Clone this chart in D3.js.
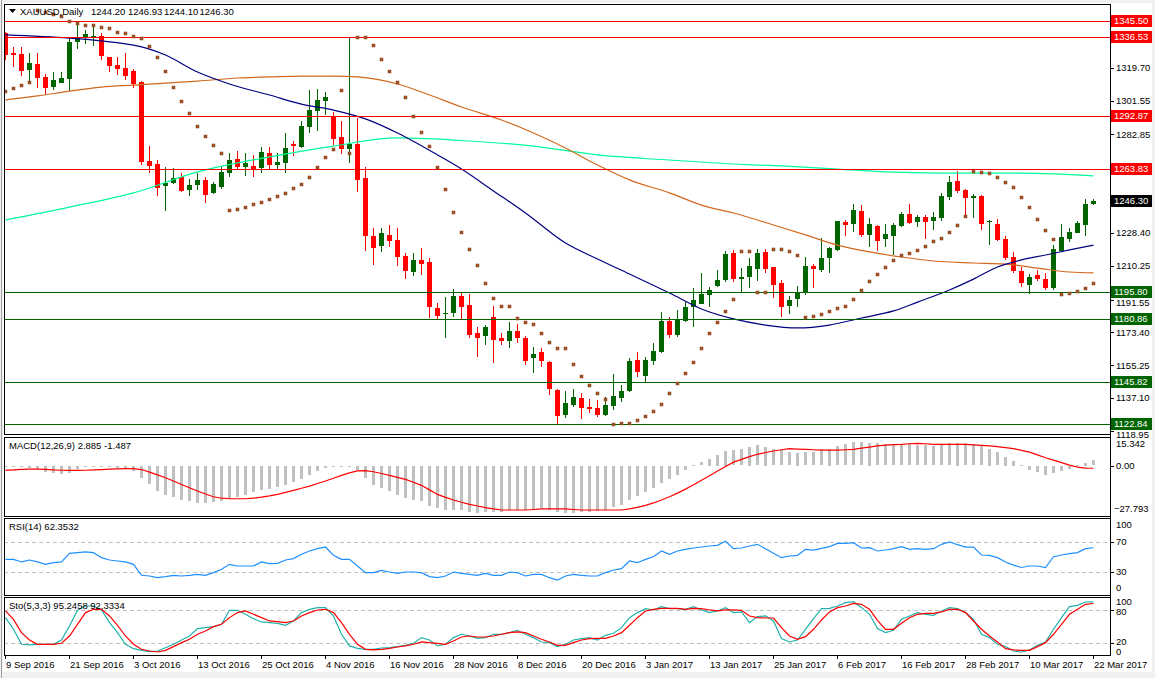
<!DOCTYPE html>
<html><head><meta charset="utf-8">
<script src="https://cdn.jsdelivr.net/npm/d3@7/dist/d3.min.js"></script>
<style>
body{margin:0;background:#fff;overflow:hidden}
svg{display:block}
text{font-family:"Liberation Sans",Arial,sans-serif;font-size:9.5px;fill:#000}
</style></head>
<body><svg id="c" width="1155" height="678"></svg>
<script>
// ---------------- DATA ----------------
const symbolTitle = "XAUUSD,Daily";
const lastOHLC = ["1244.20","1246.93","1244.10","1246.30"];
const tickLabels = ["9 Sep 2016","21 Sep 2016","3 Oct 2016","13 Oct 2016","25 Oct 2016","4 Nov 2016","16 Nov 2016","28 Nov 2016","8 Dec 2016","20 Dec 2016","3 Jan 2017","13 Jan 2017","25 Jan 2017","6 Feb 2017","16 Feb 2017","28 Feb 2017","10 Mar 2017","22 Mar 2017"];
const barsPerTick = 8;
const opens = [1338.9,1327.8,1327.3,1318.4,1321.7,1314.6,1308.9,1311.2,1313.5,1333.9,1336.1,1336.1,1337.2,1325.6,1321.2,1319.5,1317.9,1311.8,1268.1,1266.5,1254.5,1256.0,1259.3,1252.1,1255.0,1257.6,1250.6,1253.9,1261.7,1269.3,1265.0,1265.4,1264.5,1272.6,1265.9,1267.2,1277.5,1276.1,1287.1,1296.0,1301.5,1293.0,1281.6,1274.8,1277.5,1258.8,1226.7,1221.2,1227.3,1224.5,1215.5,1207.0,1213.4,1212.2,1186.8,1183.4,1184.3,1193.6,1188.6,1173.3,1171.5,1182.1,1170.2,1168.9,1174.2,1170.5,1159.1,1162.8,1157.3,1141.6,1128.0,1133.3,1137.4,1132.4,1131.5,1127.8,1132.8,1137.1,1141.2,1158.2,1149.4,1157.8,1162.8,1179.9,1172.0,1179.9,1187.3,1189.3,1194.1,1199.2,1202.4,1217.2,1202.8,1204.2,1208.6,1217.7,1209.4,1200.6,1188.2,1191.9,1195.1,1210.1,1208.0,1214.4,1219.0,1234.6,1233.2,1240.5,1227.3,1232.2,1224.9,1226.7,1232.2,1238.9,1234.6,1237.4,1234.9,1236.5,1248.4,1257.1,1252.1,1247.5,1248.8,1234.6,1233.3,1224.9,1215.0,1207.5,1199.6,1205.2,1203.2,1198.2,1218.6,1225.1,1228.5,1232.8,1244.20];
const highs = [1339.5,1331.1,1331.1,1327.8,1327.8,1316.0,1317.3,1317.3,1336.1,1344.4,1340.5,1342.2,1338.9,1325.8,1325.6,1327.8,1319.0,1312.5,1276.4,1268.7,1264.8,1264.3,1261.5,1258.2,1261.5,1259.3,1256.5,1264.8,1272.6,1273.7,1272.6,1271.5,1276.0,1276.0,1272.6,1283.6,1279.4,1290.0,1307.4,1307.9,1306.4,1295.4,1290.3,1336.5,1291.9,1265.0,1231.3,1231.3,1232.8,1231.1,1217.5,1217.3,1220.2,1214.4,1189.9,1192.8,1197.3,1195.1,1194.7,1176.3,1177.5,1187.9,1173.3,1179.4,1178.1,1171.5,1165.5,1164.7,1157.8,1142.0,1141.0,1142.0,1139.8,1136.6,1136.1,1137.9,1150.5,1144.4,1159.1,1162.8,1160.0,1167.8,1184.9,1182.1,1185.8,1190.4,1198.2,1206.4,1198.7,1207.9,1218.6,1219.0,1208.9,1214.4,1219.4,1219.5,1209.7,1202.4,1193.6,1199.1,1215.3,1211.2,1225.4,1220.8,1235.2,1235.5,1244.4,1243.8,1236.5,1232.8,1233.3,1234.0,1240.1,1244.4,1238.3,1238.3,1240.1,1250.6,1259.9,1262.8,1252.5,1249.9,1249.4,1235.5,1235.9,1226.7,1218.0,1209.7,1205.7,1207.9,1206.1,1221.7,1233.3,1230.9,1235.2,1247.2,1246.93];
const lows = [1324.0,1320.1,1315.1,1311.2,1308.5,1305.2,1307.4,1311.0,1306.8,1330.0,1332.8,1331.7,1324.0,1317.3,1315.7,1312.9,1308.5,1265.9,1261.5,1248.8,1240.7,1255.5,1251.2,1248.8,1252.1,1245.1,1249.9,1252.7,1259.5,1263.7,1259.9,1259.5,1261.5,1263.7,1263.7,1261.7,1270.9,1275.5,1283.8,1285.0,1293.6,1277.0,1272.0,1267.2,1251.2,1218.6,1210.7,1218.0,1220.8,1210.3,1202.8,1204.6,1205.2,1181.2,1180.3,1170.2,1182.1,1180.3,1170.2,1160.0,1166.3,1156.7,1166.5,1165.0,1167.8,1155.4,1150.8,1154.5,1138.9,1122.3,1126.0,1132.4,1125.4,1128.8,1126.9,1127.3,1130.6,1135.2,1140.7,1149.0,1145.3,1155.4,1161.9,1170.2,1171.1,1179.4,1176.6,1189.1,1187.6,1198.7,1201.5,1201.5,1195.0,1197.8,1202.0,1206.1,1192.6,1182.0,1183.5,1187.3,1194.1,1197.8,1206.6,1206.4,1218.4,1226.7,1229.1,1226.0,1220.8,1218.6,1220.8,1216.2,1231.5,1233.3,1231.8,1224.9,1230.0,1235.2,1246.6,1250.3,1237.4,1236.5,1230.0,1221.7,1224.1,1213.4,1206.1,1198.4,1194.7,1202.1,1196.9,1196.9,1218.0,1223.6,1228.2,1226.7,1244.10];
const closes = [1326.7,1326.7,1317.9,1322.3,1314.0,1308.5,1313.0,1314.0,1333.9,1336.1,1338.3,1337.2,1326.2,1320.6,1319.0,1315.1,1310.7,1267.8,1265.6,1253.4,1255.8,1258.8,1251.7,1254.9,1257.6,1249.5,1255.4,1262.0,1268.7,1265.0,1266.9,1263.2,1273.1,1265.9,1267.6,1275.3,1276.4,1287.5,1296.3,1301.9,1303.7,1280.3,1274.8,1277.5,1257.7,1226.7,1220.2,1228.2,1224.1,1215.3,1207.5,1213.4,1211.2,1187.6,1182.5,1183.9,1193.6,1187.3,1172.2,1170.5,1176.3,1169.3,1168.9,1174.4,1170.2,1157.8,1161.3,1157.8,1142.0,1127.4,1134.3,1137.6,1131.9,1131.3,1127.8,1133.3,1138.3,1141.2,1157.8,1151.7,1158.2,1163.2,1179.9,1172.0,1180.3,1187.6,1191.4,1194.7,1196.9,1202.4,1216.6,1202.8,1204.2,1210.1,1217.2,1208.5,1199.6,1187.6,1191.4,1195.1,1210.1,1208.6,1214.4,1219.9,1235.0,1232.8,1241.0,1227.3,1233.4,1224.1,1227.8,1232.8,1238.9,1234.1,1237.4,1234.6,1237.4,1248.8,1256.4,1251.7,1247.5,1248.8,1233.3,1234.9,1224.5,1214.4,1207.5,1200.6,1204.2,1203.0,1198.2,1219.7,1226.0,1229.1,1234.1,1244.4,1246.30];
// Parabolic SAR (one dot per bar)
const sar = [1306.8,1308.5,1310.1,1311.8,1351.6,1350.5,1349.4,1348.3,1345.5,1344.4,1343.3,1343.3,1342.2,1341.6,1339.4,1338.9,1337.2,1336.1,1331.7,1325.6,1317.9,1309.0,1301.3,1294.7,1287.5,1282.0,1277.0,1272.6,1241.1,1241.6,1242.7,1244.4,1245.5,1247.2,1248.8,1250.5,1253.2,1255.4,1259.3,1264.8,1270.4,1274.8,1307.4,1272.6,1336.7,1336.7,1332.2,1324.5,1317.9,1311.8,1303.5,1293.0,1284.2,1276.4,1264.8,1252.7,1240.0,1228.9,1219.5,1210.7,1200.7,1192.5,1188.0,1188.0,1181.4,1179.2,1178.1,1173.1,1168.2,1164.8,1164.8,1156.0,1149.4,1144.4,1140.0,1136.7,1122.8,1123.4,1123.4,1125.0,1127.3,1130.0,1133.9,1140.0,1145.5,1151.0,1157.1,1164.8,1173.1,1179.2,1185.3,1191.9,1218.4,1218.4,1195.8,1195.8,1219.5,1219.5,1218.4,1216.2,1182.0,1182.7,1183.4,1185.1,1186.7,1188.0,1191.9,1196.9,1201.9,1205.7,1209.6,1213.4,1216.2,1217.3,1219.0,1221.2,1224.0,1225.6,1228.9,1232.8,1237.8,1262.6,1262.1,1261.5,1259.3,1256.5,1253.8,1248.3,1242.7,1236.1,1230.0,1225.1,1194.7,1195.2,1196.3,1198.0,1200.7];
// Moving averages (bar index, value)
const maNavyBars = [0,16,20,24,28,33,37,41,45,49,54,57,61,65,70,74,78,83,87,91,95,99,103,107,111,114,118,121,124,127,130,133,136];
const maNavyVals = [1337.8,1332.2,1326.7,1317.3,1310.7,1304.6,1299.6,1296.3,1291.4,1283.6,1271.5,1263.7,1251.6,1239.4,1222.8,1214.0,1205.7,1195.2,1186.4,1180.9,1177.5,1175.9,1177.5,1181.4,1185.3,1190.2,1196.9,1202.9,1209.6,1213.5,1216.2,1219.0,1221.7];
const maOrangeBars = [0,4,8,12,16,20,24,29,33,37,41,44,49,53,57,62,66,70,74,78,83,87,91,96,100,104,108,112,116,121,125,129,133,136];
const maOrangeVals = [1301.9,1304.1,1306.8,1309.0,1310.1,1311.2,1312.3,1314.0,1314.6,1315.1,1315.1,1314.6,1310.7,1304.6,1298.0,1290.8,1283.6,1275.3,1265.9,1257.7,1250.5,1243.8,1239.4,1232.8,1227.3,1221.7,1217.9,1215.1,1212.9,1211.8,1211.2,1209.0,1206.8,1206.3];
const maGreenBars = [0,8,16,24,33,41,49,58,66,74,83,91,97,104,110,117,125,131,136];
const maGreenVals = [1235.6,1242.7,1250.5,1262.1,1270.4,1276.4,1280.9,1279.2,1276.4,1271.5,1268.7,1266.5,1265.4,1263.7,1262.1,1261.5,1261.5,1261.0,1259.9];
const resistanceLevels = [1345.50,1336.53,1292.87,1263.83];
const supportLevels = [1195.80,1180.86,1145.82,1122.84];
const lastPrice = 1246.30;
const priceTicks = [1319.70,1301.55,1282.85,1228.40,1210.25,1191.55,1173.40,1155.25,1137.10,1118.95];
// MACD(12,26,9)
const macdTitle = "MACD(12,26,9) 2.885 -1.487";
const macdMain = [-0.5,-0.6,-0.8,-1.0,-1.5,-3.5,-4.0,-4.2,-3.8,-1.5,-0.8,-0.5,-0.6,-0.8,-0.9,-1.0,-2.5,-6.5,-10.0,-13.5,-15.8,-17.2,-18.5,-19.5,-20.3,-20.5,-20.0,-19.2,-18.2,-17.0,-15.8,-14.5,-13.3,-12.5,-11.8,-10.5,-9.0,-7.2,-5.0,-3.0,-1.2,-0.6,-0.5,-0.6,-2.0,-6.5,-10.4,-12.2,-14.0,-15.9,-17.7,-19.0,-19.5,-21.8,-23.2,-24.2,-24.2,-24.2,-25.1,-26.0,-25.6,-25.1,-25.1,-24.2,-24.2,-24.2,-23.9,-23.2,-24.2,-25.6,-26.0,-26.0,-25.6,-25.6,-24.6,-24.2,-22.7,-21.4,-19.0,-16.8,-14.5,-12.2,-9.1,-7.2,-5.0,-2.4,0.2,1.9,3.8,5.8,8.0,8.4,8.9,10.2,11.1,10.2,8.9,8.5,7.4,7.1,7.4,7.4,8.9,9.2,10.7,11.6,12.9,12.9,12.6,12.2,11.6,11.6,11.6,12.2,11.1,11.1,10.7,11.1,12.2,12.6,12.2,11.6,10.7,9.2,7.4,4.8,2.5,0.3,-2.2,-3.3,-4.8,-3.7,-2.8,-1.5,0.3,1.6,2.885];
const macdSignal = [-2.7,-2.4,-2.1,-2.0,-2.0,-2.1,-2.4,-2.6,-2.7,-2.7,-2.6,-2.4,-2.2,-2.0,-1.8,-1.7,-1.7,-2.2,-3.6,-5.1,-6.7,-8.5,-10.4,-12.2,-14.0,-15.7,-17.2,-18.0,-18.3,-18.3,-18.3,-18.0,-17.4,-16.7,-15.9,-14.8,-13.7,-12.5,-11.3,-9.9,-8.5,-7.0,-5.4,-4.0,-2.9,-2.8,-3.4,-4.4,-5.4,-6.5,-7.6,-9.2,-10.9,-13.4,-15.9,-17.5,-19.0,-20.2,-21.4,-22.3,-23.2,-23.9,-24.5,-24.5,-24.5,-24.5,-24.2,-23.9,-23.9,-23.9,-23.9,-24.2,-24.5,-24.5,-24.5,-24.5,-24.5,-24.5,-23.9,-23.0,-21.9,-20.6,-19.0,-17.2,-15.2,-13.0,-10.6,-8.1,-5.6,-3.0,-0.5,1.9,3.4,4.9,6.2,7.2,8.0,8.7,9.3,9.1,8.9,8.7,8.5,8.5,8.5,8.7,8.9,9.6,10.2,10.8,11.3,11.5,11.7,12.0,12.2,12.0,11.7,11.7,11.7,11.7,11.7,11.4,11.1,10.8,10.4,9.9,9.3,8.4,7.4,5.9,4.3,3.0,1.6,0.2,-0.9,-1.4,-1.487];
const macdTicks = [15.342,0.00,-27.793];
// RSI(14)
const rsiTitle = "RSI(14) 62.3532";
const rsiVals = [46.9,46.9,43.4,46.0,43.4,40.2,42.4,43.4,54.9,55.8,56.7,55.8,49.1,46.0,44.7,43.4,40.2,25.6,24.7,22.4,23.8,25.6,24.7,25.6,26.9,25.6,29.1,33.6,40.2,38.0,38.0,38.0,43.4,41.2,41.6,46.0,47.8,53.6,58.0,61.1,63.3,52.2,46.9,46.9,38.0,29.1,29.1,32.2,30.0,28.2,30.0,30.0,29.1,23.8,22.4,24.7,30.0,28.2,26.9,25.6,28.2,25.6,25.6,30.0,29.1,24.7,26.9,26.9,22.4,19.3,24.7,26.9,25.6,24.7,24.7,29.1,32.7,34.4,44.7,42.4,46.9,50.4,58.0,53.6,58.0,60.2,62.0,63.3,64.7,65.6,70.9,61.1,62.0,64.7,66.9,61.1,54.9,49.1,51.3,52.2,60.2,59.3,61.6,63.8,68.2,68.2,69.1,62.0,62.4,58.0,59.3,61.1,63.8,60.2,61.1,60.2,61.1,66.9,70.0,66.4,63.3,63.3,52.7,52.2,49.1,43.4,39.1,36.0,38.0,38.0,36.0,50.4,52.7,54.4,55.8,61.1,62.35];
const rsiLevels = [70,30];
const rsiTicks = [100,70,30,0];
// Stochastic(5,3,3)
const stoTitle = "Sto(5,3,3) 95.2458 92.3334";
const stoMain = [66.6,45.5,18.2,17.0,18.2,18.2,18.2,26.0,51.5,80.0,87.8,87.8,80.6,57.5,39.3,18.2,10.2,7.2,4.8,6.0,12.0,18.2,26.0,33.3,46.7,48.5,50.3,54.5,80.0,80.0,72.7,64.8,58.8,57.5,56.3,52.7,60.6,75.8,81.8,84.8,84.8,69.7,36.4,15.2,10.9,9.1,9.1,11.5,12.0,13.9,16.4,20.0,30.3,26.0,15.2,18.2,30.3,36.4,33.3,29.1,30.3,36.4,36.4,39.4,43.6,36.4,30.3,22.4,21.2,13.9,18.2,26.0,28.5,30.3,26.0,34.5,38.2,48.5,66.6,75.8,83.0,80.6,86.7,83.0,83.0,81.8,86.7,80.6,75.8,78.8,84.8,75.8,77.0,57.5,68.5,69.7,60.6,28.5,22.4,26.0,45.5,64.8,83.0,83.6,87.8,93.9,95.7,84.8,72.7,46.7,39.4,43.6,63.6,69.7,75.8,72.7,70.9,78.8,84.8,83.0,75.8,63.6,36.4,30.3,18.2,13.9,6.0,4.2,7.9,16.4,22.4,45.5,66.6,86.7,89.1,95.1,95.25];
const stoSignal = [78.8,63.6,39.4,26.0,18.2,18.2,18.2,20.0,33.3,54.5,75.8,81.8,81.8,69.7,52.7,33.3,18.2,9.1,6.0,4.2,7.2,13.9,21.2,27.3,36.4,42.4,50.3,54.5,66.7,75.8,78.8,72.7,66.7,60.6,59.4,57.5,60.6,69.7,75.8,80.6,81.8,75.8,57.5,36.4,18.2,9.1,7.9,9.1,10.9,13.3,15.2,18.2,22.4,21.2,20.0,18.2,24.2,31.5,33.3,31.5,31.5,33.3,36.4,39.4,40.6,39.4,33.3,27.3,22.4,16.4,16.4,21.2,26.0,28.5,29.1,29.1,33.3,39.4,52.7,66.6,78.8,81.8,83.6,83.6,83.6,81.8,83.6,83.0,80.6,78.8,80.6,80.6,80.0,69.7,66.6,66.0,66.0,48.5,33.3,27.3,32.1,45.5,62.4,77.0,84.8,87.8,92.7,90.9,81.8,61.8,45.5,45.5,56.4,66.6,72.7,74.5,74.5,77.0,81.8,81.8,75.8,60.6,45.5,33.3,22.4,10.3,7.9,7.2,7.2,13.9,21.2,36.4,54.5,72.7,81.8,90.9,92.33];
const stoLevels = [80,20];
const stoTicks = [100,80,20,0];

// ---------------- LAYOUT ----------------
const svg = d3.select("#c");
const L = 4, R = 1110;
const panes = {
  main:{top:4,bottom:434},
  macd:{top:437,bottom:516},
  rsi:{top:518,bottom:595},
  sto:{top:597,bottom:655}
};
const nBars = closes.length;
const x = d3.scaleLinear().domain([0, nBars-1]).range([5.5, 5.5 + 8*(nBars-1)]);
const yMain = d3.scaleLinear().domain([1117.3, 1354.9]).range([434, 4]);
const yMacd = d3.scaleLinear().domain([-27.793, 15.342]).range([516, 437.7]);
const yRsi = d3.scaleLinear().domain([0,100]).range([594.5, 519.5]);
const ySto = d3.scaleLinear().domain([0,100]).range([654.3, 599.3]);

// frame
svg.append("rect").attr("width",1155).attr("height",678).attr("fill","#f0f0f0");
svg.append("rect").attr("x",3).attr("y",3).attr("width",1149).attr("height",669).attr("fill","#fff");
svg.append("line").attr("x1",1.5).attr("x2",1.5).attr("y1",0).attr("y2",678).attr("stroke","#a0a0a0");

const defs = svg.append("defs");
Object.entries(panes).forEach(([k,p])=>{
  defs.append("clipPath").attr("id","clip-"+k).append("rect")
    .attr("x",L+1).attr("y",p.top+1).attr("width",R-L-1).attr("height",p.bottom-p.top-1);
});

const gMain = svg.append("g").attr("clip-path","url(#clip-main)");
const crisp = v => Math.round(v);

// candles
const up = i => closes[i] >= opens[i];
const colUp = "#006400", colDn = "#ff0000";
const candles = gMain.append("g").attr("shape-rendering","crispEdges");
d3.range(nBars).forEach(i=>{
  const cx = Math.floor(x(i));
  const c = up(i) ? colUp : colDn;
  const yh = crisp(yMain(highs[i])), yl = crisp(yMain(lows[i]));
  candles.append("rect").attr("x",cx).attr("y",yh).attr("width",1).attr("height",Math.max(1,yl-yh)).attr("fill",c);
  const yo = crisp(yMain(opens[i])), yc = crisp(yMain(closes[i]));
  const top = Math.min(yo,yc), h = Math.max(1, Math.abs(yo-yc));
  candles.append("rect").attr("x",cx-2).attr("y",top).attr("width",5).attr("height",h).attr("fill",c);
});

// moving averages
const lineGen = (xs, ys, sy) => d3.line().curve(d3.curveMonotoneX).x((d,i)=>x(xs[i])).y((d,i)=>sy(ys[i]))(xs);
gMain.append("path").attr("d",lineGen(maGreenBars,maGreenVals,yMain)).attr("fill","none").attr("stroke","#00fa9a").attr("stroke-width",1.2);
gMain.append("path").attr("d",lineGen(maOrangeBars,maOrangeVals,yMain)).attr("fill","none").attr("stroke","#d2691e").attr("stroke-width",1.2);
gMain.append("path").attr("d",lineGen(maNavyBars,maNavyVals,yMain)).attr("fill","none").attr("stroke","#000080").attr("stroke-width",1.2);

// horizontal levels
resistanceLevels.forEach(v=>{
  gMain.append("line").attr("x1",L).attr("x2",R).attr("y1",crisp(yMain(v))+0.5).attr("y2",crisp(yMain(v))+0.5).attr("stroke","#ff0000");
});
supportLevels.forEach(v=>{
  gMain.append("line").attr("x1",L).attr("x2",R).attr("y1",crisp(yMain(v))+0.5).attr("y2",crisp(yMain(v))+0.5).attr("stroke","#006400");
});

// parabolic SAR
gMain.append("g").selectAll("rect").data(sar).join("rect")
  .attr("x",(d,i)=>Math.floor(x(i))-1).attr("y",d=>crisp(yMain(d))-1)
  .attr("width",3).attr("height",3).attr("fill","#a0522d").attr("stroke","#8b4513").attr("stroke-width",0.5);

// ---- MACD ----
const gMacd = svg.append("g").attr("clip-path","url(#clip-macd)");
const z0 = yMacd(0);
gMacd.append("g").attr("shape-rendering","crispEdges").selectAll("rect").data(macdMain).join("rect")
  .attr("x",(d,i)=>Math.floor(x(i))-1).attr("width",3)
  .attr("y",d=>Math.round(Math.min(z0,yMacd(d))))
  .attr("height",d=>Math.max(1,Math.round(Math.abs(yMacd(d)-z0))))
  .attr("fill","#c0c0c0");
gMacd.append("path").attr("d",d3.line().x((d,i)=>x(i)).y(d=>yMacd(d))(macdSignal)).attr("fill","none").attr("stroke","#ff0000").attr("stroke-width",1.2);

// ---- RSI ----
const gRsi = svg.append("g").attr("clip-path","url(#clip-rsi)");
rsiLevels.forEach(v=>gRsi.append("line").attr("x1",L).attr("x2",R).attr("y1",crisp(yRsi(v))+0.5).attr("y2",crisp(yRsi(v))+0.5).attr("stroke","#c0c0c0").attr("stroke-dasharray","4,3"));
gRsi.append("path").attr("d",d3.line().x((d,i)=>x(i)).y(d=>yRsi(d))(rsiVals)).attr("fill","none").attr("stroke","#1e90ff").attr("stroke-width",1.2);

// ---- Stochastic ----
const gSto = svg.append("g").attr("clip-path","url(#clip-sto)");
stoLevels.forEach(v=>gSto.append("line").attr("x1",L).attr("x2",R).attr("y1",crisp(ySto(v))+0.5).attr("y2",crisp(ySto(v))+0.5).attr("stroke","#c0c0c0").attr("stroke-dasharray","4,3"));
gSto.append("path").attr("d",d3.line().x((d,i)=>x(i)).y(d=>ySto(d))(stoMain)).attr("fill","none").attr("stroke","#20b2aa").attr("stroke-width",1.2);
gSto.append("path").attr("d",d3.line().x((d,i)=>x(i)).y(d=>ySto(d))(stoSignal)).attr("fill","none").attr("stroke","#ff0000").attr("stroke-width",1.2);

// pane frames
Object.values(panes).forEach(p=>{
  svg.append("rect").attr("x",L+0.5).attr("y",p.top+0.5).attr("width",R-L).attr("height",p.bottom-p.top)
    .attr("fill","none").attr("stroke","#000").attr("shape-rendering","crispEdges");
});

// ---- right axes ----
const axG = svg.append("g").attr("shape-rendering","crispEdges");
function rTick(y, label, ty){
  axG.append("line").attr("x1",R).attr("x2",R+4).attr("y1",Math.round(y)+0.5).attr("y2",Math.round(y)+0.5).attr("stroke","#000");
  svg.append("text").attr("x",R+6).attr("y",ty===undefined?y:ty).attr("dy","0.35em").text(label);
}
// tag boxes (drawn later) occupy +-6px; keep tick texts just clear of them
const tagYs = resistanceLevels.concat(supportLevels,[lastPrice]).map(v=>Math.round(yMain(v)));
priceTicks.forEach(v=>{
  const y = yMain(v);
  let ty = y;
  tagYs.forEach(t=>{ if (Math.abs(ty-t) < 11) ty = ty < t ? t-11 : t+11; });
  rTick(y, d3.format(".2f")(v), Math.min(ty, 434.5));
});
function tagLabel(y,label,bg){
  svg.append("rect").attr("x",R+1).attr("y",Math.round(y)-6).attr("width",41).attr("height",12).attr("fill",bg);
  svg.append("text").attr("x",R+4).attr("y",Math.round(y)).attr("dy","0.36em").style("fill","#fff").text(label);
}
resistanceLevels.forEach(v=>tagLabel(yMain(v), d3.format(".2f")(v), "#ff0000"));
supportLevels.forEach(v=>tagLabel(yMain(v), d3.format(".2f")(v), "#006400"));
tagLabel(yMain(lastPrice), d3.format(".2f")(lastPrice), "#000");

// MACD axis labels
svg.append("text").attr("x",R+6).attr("y",panes.macd.top+10).text(d3.format(".3f")(macdTicks[0]));
rTick(yMacd(macdTicks[1]), d3.format(".2f")(macdTicks[1]));
svg.append("text").attr("x",R+4).attr("y",panes.macd.bottom-4).text(d3.format(".3f")(macdTicks[2]));
// RSI labels
svg.append("text").attr("x",R+6).attr("y",panes.rsi.top+10).text(rsiTicks[0]);
rTick(yRsi(rsiTicks[1]), rsiTicks[1]);
rTick(yRsi(rsiTicks[2]), rsiTicks[2]);
svg.append("text").attr("x",R+6).attr("y",panes.rsi.bottom-4).text(rsiTicks[3]);
// Sto labels
svg.append("text").attr("x",R+6).attr("y",panes.sto.top+8).text(stoTicks[0]);
rTick(ySto(stoTicks[1]), stoTicks[1], ySto(stoTicks[1])+1.5);
rTick(ySto(stoTicks[2]), stoTicks[2], ySto(stoTicks[2])-1.5);
svg.append("text").attr("x",R+6).attr("y",ySto(stoTicks[3])-2.5).attr("dy","0.35em").text(stoTicks[3]);

// right axis vertical line extension
axG.append("line").attr("x1",R+0.5).attr("x2",R+0.5).attr("y1",4).attr("y2",655).attr("stroke","#000");

// ---- time axis ----
tickLabels.forEach((lab,k)=>{
  const xi = Math.floor(x(k*barsPerTick));
  axG.append("line").attr("x1",xi+0.5).attr("x2",xi+0.5).attr("y1",655).attr("y2",659).attr("stroke","#000");
  svg.append("text").attr("x",xi+1).attr("y",668).text(lab);
});

// ---- titles ----
svg.append("path").attr("d","M9,9 L16,9 L12.5,13 Z").attr("fill","#000");
svg.append("text").attr("x",20).attr("y",15).text(symbolTitle);
const ohlcX = [91,128,164,199.5];
lastOHLC.forEach((v,k)=>svg.append("text").attr("x",ohlcX[k]).attr("y",15).text(v));
svg.append("text").attr("x",9).attr("y",panes.macd.top+12).text(macdTitle);
svg.append("text").attr("x",9).attr("y",panes.rsi.top+12).text(rsiTitle);
svg.append("text").attr("x",9).attr("y",panes.sto.top+12).text(stoTitle);
</script></body></html>
